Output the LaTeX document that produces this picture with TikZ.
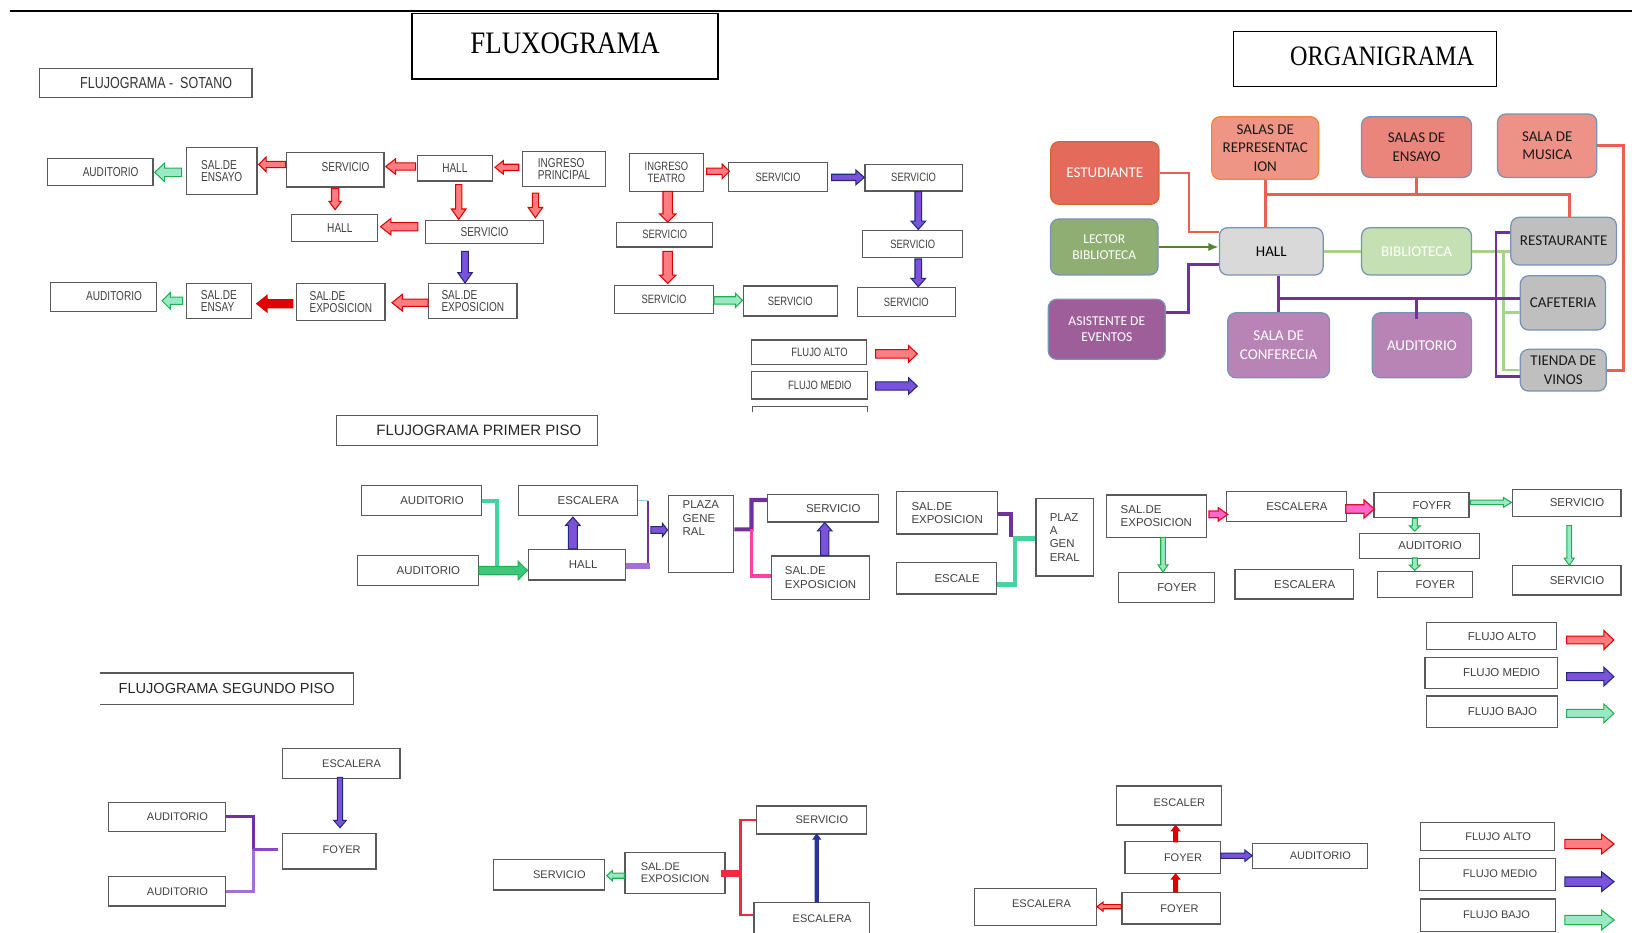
\documentclass[tikz,border=0pt]{standalone}
\usepackage{fontspec}
\setmainfont{Liberation Sans}
\newfontfamily\estrecha[FakeStretch=0.78]{Liberation Sans}
\newfontfamily\orgfont{Carlito}
\newfontfamily\serifa[FakeStretch=0.86]{Liberation Serif}
\usetikzlibrary{calc}
\usetikzlibrary{arrows.meta}
\definecolor{borde}{HTML}{595959}
\definecolor{texto}{HTML}{404040}
\definecolor{rojoc}{HTML}{FF7C80}
\definecolor{rojob}{HTML}{D90000}
\definecolor{rojos}{HTML}{E00000}
\definecolor{moradoc}{HTML}{7B52D9}
\definecolor{moradob}{HTML}{1F2A7A}
\definecolor{verdec}{HTML}{9BE8C5}
\definecolor{verdeb}{HTML}{1FAF4B}
\definecolor{verdes}{HTML}{3CC77D}
\definecolor{rosac}{HTML}{FF66CC}
\definecolor{rosab}{HTML}{E0102C}
\definecolor{navy}{HTML}{283593}
\definecolor{teal2}{HTML}{45D3A0}
\definecolor{morado}{HTML}{7030A0}
\definecolor{lila}{HTML}{A56EDD}
\definecolor{moradom}{HTML}{8B45C7}
\definecolor{rosa}{HTML}{FF3FA4}
\definecolor{rojol}{HTML}{EE2B3F}
\definecolor{azulc}{HTML}{9DC3E6}
\definecolor{oest}{HTML}{E46B5B}
\definecolor{oestb}{HTML}{D8622F}
\definecolor{orep}{HTML}{EE9585}
\definecolor{orepb}{HTML}{F0863E}
\definecolor{oens}{HTML}{EA857B}
\definecolor{omus}{HTML}{EE9187}
\definecolor{oazul}{HTML}{7893B8}
\definecolor{olect}{HTML}{8FAE74}
\definecolor{ohall}{HTML}{D9D9D9}
\definecolor{obib}{HTML}{C5E0B3}
\definecolor{ogris}{HTML}{BFBFBF}
\definecolor{oasis}{HTML}{9D5E9A}
\definecolor{oconf}{HTML}{B784B5}
\definecolor{otx}{HTML}{1A1A1A}
\definecolor{orojo}{HTML}{EC5F4E}
\definecolor{overdec}{HTML}{A9D18E}
\definecolor{overde}{HTML}{548235}
\tikzset{
  caja/.style={draw=borde, line width=0.6pt, text=texto, inner sep=1pt, align=center},
  sot/.style={caja, font=\estrecha\fontsize{6.2}{5.8}\selectfont},
  tea/.style={caja, font=\estrecha\fontsize{5.8}{5.8}\selectfont},
  piso/.style={caja, font=\fontsize{5.5}{6.4}\selectfont},
  seg/.style={caja, font=\fontsize{5.3}{5.9}\selectfont},
  org/.style={rounded corners=4pt, line width=0.6pt, inner sep=1pt, align=center, font=\orgfont\fontsize{7.2}{8.8}\selectfont},
  orgp/.style={org, font=\orgfont\fontsize{6.5}{8}\selectfont},
  alto/.style={fill=rojoc, draw=rojob, line width=0.5pt},
  alto2/.style={fill=rojos, draw=rojob, line width=0.5pt},
  medio/.style={fill=moradoc, draw=moradob, line width=0.5pt},
  bajo/.style={fill=verdec, draw=verdeb, line width=0.5pt},
  bajos/.style={fill=verdes, draw=verdeb, line width=0.5pt},
  rosaf/.style={fill=rosac, draw=rosab, line width=0.6pt},
  naval/.style={fill=navy, draw=navy, line width=0.4pt}
}
\newcommand{\despl}{\hspace*{10pt}}
% block arrow: style, start, end, shaft half width, head half width, head length
\newcommand{\flecha}[6][]{%
  \path #2 coordinate (fa) #3 coordinate (fb);
  \coordinate (fh) at ($(fb)!#6!(fa)$);
  \filldraw[#1] ($(fa)!#4!90:(fb)$) -- ($(fh)!#4!90:(fb)$) -- ($(fh)!#5!90:(fb)$) -- (fb)
    -- ($(fh)!#5!-90:(fb)$) -- ($(fh)!#4!-90:(fb)$) -- ($(fa)!#4!-90:(fb)$) -- cycle;
}

\begin{document}
\begin{tikzpicture}[x=0.5pt,y=-0.5pt]
	\useasboundingbox (0,0) rectangle (1568,896);
	\draw[line width=1pt] (9.5,11) -- (1568,11);
	\node[draw=black, line width=0.7pt, minimum width=147pt, minimum height=31.5pt, font=\serifa\fontsize{15}{15}\selectfont] (fluxo) at (543,44.5) {\raisebox{2.75pt}{FLUXOGRAMA}};
	\node[draw=black, line width=0.7pt, minimum width=126.5pt, minimum height=26.5pt, font=\serifa\fontsize{13.5}{13.5}\selectfont] (organi) at (1311.5,56.5) {\hspace*{16.5pt}\raisebox{2.25pt}{ORGANIGRAMA}};
	\node[caja, minimum width=102pt, minimum height=14pt, font=\estrecha\fontsize{7.7}{8}\selectfont, text=black!80] (tsot) at (140,80) {\despl FLUJOGRAMA -\ \ SOTANO};
	\node[caja, minimum width=125.25pt, minimum height=14.25pt, font=\fontsize{7.2}{8}\selectfont, text=black!85] (tprim) at (448.5,413.7) {\hspace*{11.5pt}FLUJOGRAMA PRIMER PISO};
	\node[minimum width=121.7pt, minimum height=14.9pt, inner sep=1pt, font=\fontsize{7}{8}\selectfont, text=black!85] (tseg) at (217.8,661.8) {FLUJOGRAMA SEGUNDO PISO};
	\draw[borde, line width=0.6pt] (tseg.north west) -- (tseg.north east) -- (tseg.south east) -- (tseg.south west);

	\node[sot, minimum width=50.7pt, minimum height=13pt] (a1) at (96.3,165) {\despl AUDITORIO};
	\node[sot, align=left, minimum width=34pt, minimum height=22.6pt] (s1) at (213,164.1) {SAL.DE\\ENSAYO};
	\node[sot, minimum width=47pt, minimum height=16.5pt] (sv1) at (322,163.2) {\despl\raisebox{2.5pt}{SERVICIO}};
	\node[sot, minimum width=36pt, minimum height=12.2pt] (h1) at (437,161.8) {HALL};
	\node[sot, align=left, minimum width=40pt, minimum height=16.85pt] (ip) at (542,162.6) {INGRESO\\PRINCIPAL};
	\node[sot, minimum width=41.5pt, minimum height=13pt] (h2) at (321.5,219) {\hspace*{5pt}HALL};
	\node[sot, minimum width=56.5pt, minimum height=11pt] (sv2) at (465.5,223) {SERVICIO};
	\node[sot, minimum width=51pt, minimum height=13.9pt] (a2) at (99.6,285.5) {\despl\raisebox{1pt}{AUDITORIO}};
	\node[sot, align=left, minimum width=31.3pt, minimum height=16.7pt] (s2) at (210.3,289.2) {SAL.DE\\ENSAY};
	\node[sot, align=left, minimum width=42.5pt, minimum height=17.65pt] (e1) at (327.5,290.2) {SAL.DE\\EXPOSICION};
	\node[sot, align=left, minimum width=42.3pt, minimum height=16.7pt] (e2) at (454.3,289.2) {SAL.DE\\EXPOSICION};

	\flecha[bajo]{($(s1.west)+(-4,1.5)$)}{($(a1.east)+(1,0.6)$)}{2pt}{4.4pt}{4.75pt}
	\flecha[alto]{($(sv1.west)+(0,-5.2)$)}{($(s1.east)+(1,-6.1)$)}{1.5pt}{3.5pt}{3.5pt}
	\flecha[alto]{($(h1.west)+(-1,-1.8)$)}{($(sv1.east)+(1,-3.2)$)}{1.75pt}{3.75pt}{4.75pt}
	\flecha[alto]{($(ip.west)+(-3,-1.8)$)}{($(h1.east)+(2,-1)$)}{1.5pt}{3.25pt}{4pt}
	\flecha[alto]{($(sv1.south)+(0,1)$)}{($(h2.north)+(0.5,-4)$)}{1.75pt}{3pt}{4pt}
	\flecha[alto]{($(h1.south)+(3.7,2.8)$)}{($(sv2.north)+(-24.8,-0.6)$)}{1.5pt}{3.5pt}{5pt}
	\flecha[alto]{($(ip.south)+(-27.6,5.4)$)}{($(sv2.north)+(48.9,-2.2)$)}{1.5pt}{3.5pt}{5pt}
	\flecha[alto]{($(sv2.west)+(-7,-5.2)$)}{($(h2.east)+(2,-1.2)$)}{2pt}{4pt}{5pt}
	\flecha[medio]{($(sv2.south)+(-18.7,7)$)}{($(e2.north)+(-7.5,0)$)}{1.6pt}{3.5pt}{5pt}
	\flecha[alto]{($(e2.west)+(0,1.6)$)}{($(e1.east)+(6,0.6)$)}{1.75pt}{4pt}{5pt}
	\flecha[alto2]{($(e1.west)+(-3,1.6)$)}{($(s2.east)+(4.4,2.6)$)}{2pt}{4pt}{5pt}
	\flecha[bajo]{($(s2.west)+(-3,-0.2)$)}{($(a2.east)+(4.5,3.5)$)}{1.75pt}{4pt}{4pt}

	\node[tea, minimum width=35.7pt, minimum height=18.25pt] (it) at (640.3,165.6) {INGRESO\\TEATRO};
	\node[tea, minimum width=47.5pt, minimum height=13.75pt] (t1) at (747.5,170) {SERVICIO};
	\node[tea, minimum width=46.8pt, minimum height=12.75pt] (t2) at (877.8,170.8) {SERVICIO};
	\node[tea, minimum width=46.1pt, minimum height=11.85pt] (t3) at (638.6,225.5) {SERVICIO};
	\node[tea, minimum width=48pt, minimum height=13.15pt] (t4) at (877,234.5) {SERVICIO};
	\node[tea, minimum width=47.4pt, minimum height=13.5pt] (t5) at (638,287.5) {SERVICIO};
	\node[tea, minimum width=45.25pt, minimum height=14.4pt] (t6) at (759.3,289.2) {SERVICIO};
	\node[tea, minimum width=47.1pt, minimum height=13.95pt] (t7) at (870.8,290.4) {SERVICIO};
	\node[tea, minimum width=55.35pt, minimum height=11.65pt] (la1) at (777.4,338.4) {\despl FLUJO ALTO};
	\node[tea, minimum width=56pt, minimum height=13.3pt] (la2) at (777.7,370.1) {\despl FLUJO MEDIO};
	\draw[borde, line width=0.6pt] (722.7,396) |- (833.5,390.7) -- (833.5,396);

	\flecha[alto]{($(it.east)+(2.3,-1)$)}{($(t1.west)+(1.4,-5.4)$)}{1.5pt}{3.5pt}{3.5pt}
	\flecha[medio]{($(t1.east)+(3.4,0.4)$)}{($(t2.west)+(0,-0.4)$)}{1.5pt}{3.5pt}{4pt}
	\flecha[alto]{($(it.south)+(1.2,-0.6)$)}{($(t3.north)+(2.9,0.4)$)}{2.25pt}{4pt}{4pt}
	\flecha[alto]{($(t3.south)+(2.9,3.5)$)}{($(t5.north)+(3.5,-1.1)$)}{2.25pt}{4pt}{4pt}
	\flecha[bajo]{($(t5.east)+(0,1.1)$)}{($(t6.west)+(0,-0.6)$)}{1.75pt}{3.5pt}{3.5pt}
	\flecha[medio]{($(t2.south)+(4.5,0)$)}{($(t4.north)+(5.3,-0.3)$)}{1.6pt}{3.5pt}{4pt}
	\flecha[medio]{($(t4.south)+(5.3,0.6)$)}{($(t7.north)+(11.5,-0.4)$)}{1.6pt}{3.5pt}{4pt}
	\flecha[alto]{($(la1.east)+(8,1.6)$)}{($(la1.east)+(48,1.6)$)}{2pt}{4pt}{4.2pt}
	\flecha[medio]{($(la2.east)+(7,0.8)$)}{($(la2.east)+(47,0.8)$)}{2pt}{4pt}{4.2pt}

	\node[org, fill=oest, draw=oestb, text=white, minimum width=52pt, minimum height=30.1pt] (est) at (1061.5,166.2) {ESTUDIANTE};
	\node[org, fill=orep, draw=orepb, text=otx, minimum width=51.35pt, minimum height=30.1pt] (srep) at (1215.6,142.2) {SALAS DE\\REPRESENTAC\\ION};
	\node[org, fill=oens, draw=oazul, text=otx, minimum width=52.8pt, minimum height=29.15pt] (sens) at (1361,141.3) {SALAS DE\\ENSAYO};
	\node[org, fill=omus, draw=oazul, text=otx, minimum width=47.7pt, minimum height=30.45pt] (smus) at (1486.5,140) {SALA DE\\MUSICA};
	\node[orgp, fill=olect, draw=oazul, text=white, minimum width=51.65pt, minimum height=26.9pt] (lect) at (1061,237.3) {LECTOR\\BIBLIOTECA};
	\node[org, fill=ohall, draw=oazul, text=black, minimum width=49.85pt, minimum height=22.75pt] (hall) at (1221.4,241.5) {HALL};
	\node[org, fill=obib, draw=oazul, text=white, minimum width=52.8pt, minimum height=22.75pt] (bib) at (1361,241.5) {BIBLIOTECA};
	\node[org, fill=ogris, draw=oazul, text=otx, minimum width=50.75pt, minimum height=22.9pt] (rest) at (1502.3,231.7) {RESTAURANTE};
	\node[orgp, fill=oasis, draw=oazul, text=white, minimum width=56.2pt, minimum height=28.8pt] (asis) at (1063.4,316.4) {ASISTENTE DE\\EVENTOS};
	\node[org, fill=oconf, draw=oazul, text=white, minimum width=48.95pt, minimum height=31.25pt] (conf) at (1228.5,331.7) {SALA DE\\CONFERECIA};
	\node[org, fill=oconf, draw=oazul, text=white, minimum width=47.7pt, minimum height=31.25pt] (aud) at (1366.1,331.7) {AUDITORIO};
	\node[org, fill=ogris, draw=oazul, text=otx, minimum width=40.95pt, minimum height=26.05pt] (caf) at (1501.6,291) {CAFETERIA};
	\node[org, fill=ogris, draw=oazul, text=otx, minimum width=41.35pt, minimum height=20.05pt] (tien) at (1502,355.7) {TIENDA DE\\VINOS};

	\draw[orojo, line width=1pt] (est.east) -| ($(hall.west)+(-29,-18.9)$) -- ($(hall.west)+(0,-18.9)$);
	\draw[overde, line width=1pt, -{Latex[length=5pt,width=4pt]}] (lect.east) -- (lect.east -| hall.west);
	\draw[morado, line width=1.3pt] ($(asis.east)+(0,-16.3)$) -| ($(hall.west)+(-29,12.5)$) -- ($(hall.west)+(0,12.5)$);
	\coordinate (busr) at (1215.6,186.7);
	\draw[orojo, line width=1.4pt] (srep.south) -- (srep.south |- hall.north);
	\draw[orojo, line width=1.4pt] (busr) -| ($(rest.north)+(5.7,0)$);
	\draw[orojo, line width=1.4pt] (sens.south) -- (sens.south |- busr);
	\draw[orojo, line width=1.4pt] (smus.east) -- ++(25.4,0) |- (tien.east);
	\draw[overdec, line width=1.1pt] (hall.east) -- (bib.west);
	\draw[overdec, line width=1.1pt] (bib.east) -- (bib.east -| rest.west);
	\coordinate (gv) at (1444.6,241.5);
	\draw[overdec, line width=1.1pt] (gv) |- (tien.west);
	\draw[overdec, line width=1.1pt] ($(caf.west)+(0,9.1)$) -- ++(-16,0);
	\draw[morado, line width=1.3pt] ($(rest.west)+(0,-8.2)$) -- ++(-13.5,0) |- ($(tien.west)+(0,6.3)$);
	\coordinate (pv) at (1228.5,286.6);
	\draw[morado, line width=1.3pt] (conf.north) -- (conf.north |- hall.south);
	\draw[morado, line width=1.3pt] (pv) -- (pv -| caf.west);
	\draw[morado, line width=1.3pt] ($(aud.north)+(-5.3,-13.8)$) -- ($(aud.north)+(-5.3,7.1)$);

	\node[piso, minimum width=57.8pt, minimum height=14.4pt] (p1) at (405.1,481) {\despl AUDITORIO};
	\node[piso, minimum width=57.85pt, minimum height=14.25pt] (p2) at (401.6,548.1) {\despl AUDITORIO};
	\node[piso, minimum width=57.3pt, minimum height=14.4pt] (p3) at (555.2,481) {\despl ESCALERA};
	\node[piso, minimum width=46.85pt, minimum height=14.55pt] (p4) at (554.3,542.6) {\hspace*{6pt}HALL};
	\node[piso, minimum width=31.45pt, minimum height=37pt] (p5) at (673.4,513.2) {};
	\node[piso, draw=none, align=left, anchor=north west] (p5t) at ($(p5.north west)+(12,3)$) {PLAZA\\GENE\\RAL};
	\node[piso, minimum width=53.2pt, minimum height=13.3pt] (p6) at (790.6,488.2) {\despl SERVICIO};
	\node[piso, align=left, minimum width=46.85pt, minimum height=20.8pt] (p7) at (788.4,555) {SAL.DE\\EXPOSICION};

	\coordinate (pj) at (477.3,544.4);
	\draw[teal2, line width=2pt] (p1.east) -| (pj);
	\flecha[bajos]{(p2.east)}{(p2.east -| p4.west)}{2pt}{4.4pt}{4.5pt}
	\flecha[medio]{($(p4.north)+(-3.9,0)$)}{($(p3.south)+(-4.8,0.8)$)}{2.15pt}{3.5pt}{4pt}
	\coordinate (pt) at (622.5,481);
	\coordinate (pb) at (622.5,543.8);
	\draw[azulc, line width=0.6pt] (p3.east) -- (pt);
	\draw[morado, line width=0.9pt] (pt) -- (pb);
	\draw[lila, line width=2.5pt] ($(pb)+(2,0)$) -- (pb -| p4.east);
	\flecha[medio]{($(p5.west)+(-16,-4)$)}{($(p5.west)+(0,-4)$)}{1.6pt}{3.25pt}{2.5pt}
	\coordinate (pm) at (722,508.6);
	\draw[morado, line width=2pt] ($(p5.east)+(0,-4.6)$) -- (pm) |- ($(p6.west)+(0,-7.8)$);
	\draw[rosa, line width=1.8pt] (pm) |- ($(p7.west)+(0,-1.9)$);
	\flecha[medio]{($(p7.north)+(4,0)$)}{($(p6.south)+(1.8,0)$)}{2pt}{3.5pt}{4pt}

	\node[piso, align=left, minimum width=48.4pt, minimum height=20.35pt] (q1) at (910,492.8) {SAL.DE\\EXPOSICION};
	\node[piso, minimum width=47.95pt, minimum height=15.05pt] (q2) at (909.6,555.7) {\despl ESCALE};
	\node[piso, align=left, minimum width=27.65pt, minimum height=37.3pt] (q3) at (1023,516.1) {PLAZ\\A\\GEN\\ERAL};
	\node[piso, align=left, minimum width=47.95pt, minimum height=20.5pt] (q4) at (1111,496.1) {SAL.DE\\EXPOSICION};
	\node[piso, minimum width=57.85pt, minimum height=14.4pt] (q5) at (1236,486.8) {\despl ESCALERA};
	\node[piso, minimum width=45.6pt, minimum height=12pt] (q6) at (1365.8,485.4) {\despl FOYFR};
	\node[piso, minimum width=57.6pt, minimum height=12pt] (q7) at (1363.9,524.5) {\despl AUDITORIO};
	\node[piso, minimum width=45.6pt, minimum height=12.35pt] (q8) at (1369,561.6) {\despl FOYER};
	\node[piso, minimum width=45.85pt, minimum height=14.25pt] (q9) at (1120.8,564.5) {\despl FOYER};
	\node[piso, minimum width=57.15pt, minimum height=14.25pt] (q10) at (1243.6,561.2) {\despl ESCALERA};
	\node[piso, minimum width=52.3pt, minimum height=13.1pt] (q11) at (1505.2,483.3) {\despl SERVICIO};
	\node[piso, minimum width=52.3pt, minimum height=14.25pt] (q12) at (1505.2,557.5) {\despl SERVICIO};

	\draw[morado, line width=2pt] ($(q1.east)+(0,1.4)$) -| ($(q3.west)+(-23.1,-0.4)$);
	\draw[teal2, line width=2pt] ($(q2.east)+(0,5.8)$) -| ($(q3.west)+(-19.4,1.2)$) -- ($(q3.west)+(0,1.2)$);
	\flecha[rosaf]{($(q4.east)+(2,-1.9)$)}{($(q5.west)+(2,7.4)$)}{1.6pt}{3.2pt}{4.5pt}
	\flecha[rosaf]{($(q5.east)+(-1.4,2.2)$)}{($(q6.west)+(0.8,3.6)$)}{2pt}{4.4pt}{5pt}
	\flecha[bajo]{($(q6.east)+(1,-2.7)$)}{($(q11.west)+(0,-0.6)$)}{1.1pt}{2.4pt}{4pt}
	\flecha[bajo]{($(q6.south)+(-6.5,0)$)}{($(q7.north)+(-4.6,-1.7)$)}{1.2pt}{2.6pt}{2.5pt}
	\flecha[bajo]{($(q7.south)+(-4.6,-1)$)}{($(q8.north)+(-9.7,-0.7)$)}{1.2pt}{2.6pt}{2.5pt}
	\flecha[bajo]{($(q4.south)+(6.4,-1)$)}{($(q9.north)+(-3.4,0)$)}{1.1pt}{2.4pt}{3.5pt}
	\flecha[bajo]{($(q11.south)+(2.5,8)$)}{($(q12.north)+(2.5,0.6)$)}{1.1pt}{2.4pt}{3.5pt}

	\node[piso, minimum width=62.45pt, minimum height=12.8pt] (lb1) at (1433.2,611.1) {\despl FLUJO ALTO};
	\node[piso, minimum width=63.6pt, minimum height=14.9pt] (lb2) at (1432.7,646.5) {\despl FLUJO MEDIO};
	\node[piso, minimum width=62.8pt, minimum height=15.05pt] (lb3) at (1433.5,683.8) {\despl FLUJO BAJO};
	\flecha[alto]{($(lb1.east)+(9,3.8)$)}{($(lb1.east)+(54.4,3.8)$)}{1.9pt}{4.5pt}{4.8pt}
	\flecha[medio]{($(lb2.east)+(8.3,3.6)$)}{($(lb2.east)+(53.7,3.6)$)}{1.9pt}{4.5pt}{4.8pt}
	\flecha[bajo]{($(lb3.east)+(8.3,1.6)$)}{($(lb3.east)+(53.7,1.6)$)}{1.9pt}{4.5pt}{4.8pt}

	\node[seg, minimum width=56.5pt, minimum height=14.4pt] (r1) at (327.8,733.4) {\despl ESCALERA};
	\node[seg, minimum width=56.35pt, minimum height=13.9pt] (r2) at (160.5,785.1) {\despl AUDITORIO};
	\node[seg, minimum width=45pt, minimum height=17.15pt] (r3) at (316.3,817.8) {\hspace*{12pt}\raisebox{1.5pt}{FOYER}};
	\node[seg, minimum width=56.35pt, minimum height=14.1pt] (r4) at (160.5,856.4) {\despl AUDITORIO};
	\flecha[medio]{($(r1.south)+(-1.1,-1.6)$)}{($(r3.north)+(10.4,-4.8)$)}{1.25pt}{3pt}{3.5pt}
	\coordinate (rj) at (243.4,816);
	\draw[morado, line width=1.3pt] ($(r2.east)+(0,-0.5)$) -| (rj);
	\draw[lila, line width=1.3pt] (rj) |- ($(r4.east)+(0,0.3)$);
	\draw[moradom, line width=1.3pt] (rj) -- ($(r3.west)+(-3.9,-1.8)$);

	\node[seg, minimum width=53.35pt, minimum height=14.75pt] (sg1) at (527.4,840.4) {\despl SERVICIO};
	\node[seg, align=left, minimum width=48.05pt, minimum height=19.7pt] (sg2) at (648.6,838.6) {SAL.DE\\EXPOSICION};
	\node[seg, minimum width=52.55pt, minimum height=13.45pt] (sg3) at (779.6,787.9) {\despl SERVICIO};
	\node[seg, minimum width=55.4pt, minimum height=16.35pt] (sg4) at (779.9,883.7) {\despl\raisebox{1.5pt}{ESCALERA}};
	\flecha[bajo]{($(sg2.west)+(0,2.7)$)}{($(sg1.east)+(1.6,0.9)$)}{1.25pt}{2.5pt}{2.7pt}
	\coordinate (sr) at (712,839.1);
	\draw[rojol, line width=3.2pt] ($(sg2.east)+(-4.8,0.5)$) -- (sr);
	\draw[rojol, line width=1.1pt] (sg3.west) -| ($(sg4.west)+(-12.5,-4.6)$) -- ($(sg4.west)+(0,-4.6)$);
	\flecha[naval]{($(sg4.north)+(4.8,0)$)}{($(sg3.south)+(5.1,-0.7)$)}{0.8pt}{1.8pt}{2.5pt}

	\node[seg, minimum width=50.4pt, minimum height=18.7pt] (u1) at (1123.1,773.9) {\despl\raisebox{2.6pt}{ESCALER}};
	\node[seg, minimum width=45.7pt, minimum height=15.2pt] (u2) at (1126.6,823.9) {\despl FOYER};
	\node[seg, minimum width=54.95pt, minimum height=12pt] (u3) at (1258.6,822.3) {\despl AUDITORIO};
	\node[seg, minimum width=58.65pt, minimum height=17.95pt] (u4) at (994.7,871.5) {\hspace*{6pt}\raisebox{2.9pt}{ESCALERA}};
	\node[seg, minimum width=47.15pt, minimum height=15.25pt] (u5) at (1125.2,872.6) {\hspace*{8pt}FOYER};
	\flecha[alto2]{($(u2.north)+(2.9,0.7)$)}{($(u1.south)+(6.4,0)$)}{1pt}{2pt}{2.5pt}
	\flecha[alto2]{($(u5.north)+(4.3,0)$)}{($(u2.south)+(2.9,0)$)}{1pt}{2pt}{2.5pt}
	\flecha[medio]{($(u2.east)+(0,-1.8)$)}{($(u3.west)+(0,-0.2)$)}{1.25pt}{2.75pt}{3.5pt}
	\flecha[alto]{($(u5.west)+(0,-1.5)$)}{($(u4.east)+(0,-0.4)$)}{1pt}{2.25pt}{3pt}

	\node[seg, minimum width=64.4pt, minimum height=13.45pt] (lc1) at (1429.4,803.9) {\despl FLUJO ALTO};
	\node[seg, minimum width=65.4pt, minimum height=15.5pt] (lc2) at (1429.2,840.2) {\hspace*{12pt}\raisebox{1pt}{FLUJO MEDIO}};
	\node[seg, minimum width=64.8pt, minimum height=15.7pt] (lc3) at (1429.8,879.4) {\hspace*{8pt}\raisebox{1pt}{FLUJO BAJO}};
	\flecha[alto]{($(lc1.east)+(9.1,7)$)}{($(lc1.east)+(56.4,7)$)}{2.25pt}{4.75pt}{6pt}
	\flecha[medio]{($(lc2.east)+(8.3,6.9)$)}{($(lc2.east)+(55.6,6.9)$)}{2.25pt}{4.75pt}{6pt}
	\flecha[bajo]{($(lc3.east)+(8.3,4.5)$)}{($(lc3.east)+(55.6,4.5)$)}{2.25pt}{4.75pt}{6pt}
\end{tikzpicture}
\end{document}
